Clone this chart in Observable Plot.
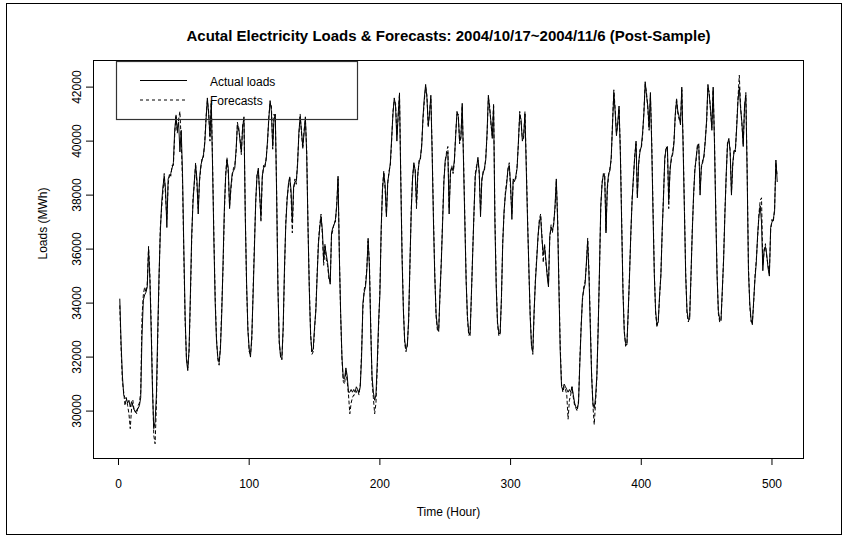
<!DOCTYPE html>
<html>
<head>
<meta charset="utf-8">
<script src="https://cdn.jsdelivr.net/npm/d3@7"></script>
<script src="https://cdn.jsdelivr.net/npm/@observablehq/plot@0.6"></script>
<style>
  html, body { margin: 0; padding: 0; background: white; }
  svg { display: block; }
</style>
</head>
<body>
<div id="chart"></div>
<script>
// Hourly loads (MWh), one row per day, 2004/10/17 (Sun) ... 2004/11/6 (Sat)
const actual = [
  34150,32500,31300,30600,30500,30450,30300,30400,30150,30350,30200,30050,29950,30050,30100,30200,30500,32800,34100,34300,34400,34600,36000,34900,
  33000,30800,29350,29600,30600,32900,35000,36600,37700,38300,38700,38200,36800,38600,38700,38800,39000,39200,40400,40900,40400,40700,39600,40400,
  38800,36000,33500,31900,31500,32300,34300,36500,37700,38500,39100,38600,37300,38600,39100,39300,39500,39900,40800,41600,41000,40200,41400,39000,
  36300,34000,32600,32000,31800,32300,33600,35500,37500,38700,39300,39000,37500,38300,38800,38900,39000,39700,40600,40500,40000,39600,40500,40900,
  37200,34800,33000,32300,32000,32800,34300,36000,37800,38700,39000,38000,37200,38700,39000,39100,39300,40000,40800,41500,41100,39800,40800,41000,
  38000,34500,32600,32000,31950,33100,35300,36900,37800,38400,38650,38200,37000,38300,38500,38500,39100,40300,40900,40400,39800,40300,40900,39500,
  36800,34500,32800,32200,32300,33100,33700,35000,36200,36800,37200,36700,35600,36100,35800,35500,35000,34700,36600,36800,36900,37100,37600,38700,
  35700,33600,32000,31200,31200,31600,31300,30700,30700,30800,30700,30800,30700,30900,30800,30700,30900,32000,34000,34400,34600,35200,36400,35300,
  33000,31300,30700,30400,30600,31800,33300,34300,36800,38200,38800,38400,37200,38500,38800,39200,40100,41000,41600,41300,40000,41000,41700,38500,
  35600,33700,32600,32300,32400,33400,35500,37400,38600,39200,38900,37700,38800,39200,39400,39800,40900,41600,42100,41600,40600,41000,41700,39500,
  37000,35000,33600,33100,32950,34400,35500,37000,38500,39300,39500,39600,37300,38900,39000,38900,39300,40200,41100,40900,40000,40100,41400,39200,
  37000,34800,33500,32900,32800,34300,35800,37400,38700,39000,39400,38900,37200,38600,38800,39000,39300,40300,41700,41200,40700,40100,41300,37000,
  34600,33300,32900,32850,34200,36200,37400,38000,38400,39000,39100,38400,37100,38600,38500,38700,39000,40000,41000,40800,40000,40200,41000,39000,
  37000,35300,33500,32400,32200,33700,34800,35600,36500,37000,37200,36400,35800,36100,35600,35000,34600,36500,36800,36700,36900,37600,38600,37000,
  34500,32200,30900,30800,31000,30900,30800,30700,30800,30700,30900,30600,30300,30150,30100,30300,31800,33100,34200,34500,34700,35500,36300,35000,
  33100,31300,30300,30100,30500,31300,33000,35200,37600,38400,38800,38700,36600,38300,38800,38900,39400,40600,41800,41100,40200,40700,41300,39500,
  36900,34400,32900,32500,32450,33700,35000,36600,37800,38700,39400,40000,37900,39200,39600,39800,40300,41000,42200,41700,41300,40500,41800,39800,
  37300,35000,33700,33200,33300,34300,35000,36700,37900,39400,39700,39800,37800,38900,39400,39500,39900,41000,41500,41100,40900,40600,42000,39800,
  37400,35000,33700,33400,33400,35000,36600,38000,38900,39400,39800,39900,38000,39100,39200,39500,40000,40800,42100,41700,41200,40400,42000,39900,
  37300,35000,33700,33400,33350,34500,35600,37300,38800,39900,40100,39600,38000,39200,39600,39700,40500,41500,42000,41200,40700,39800,41300,41700,
  38800,35200,34000,33400,33200,34100,34900,35500,36500,37200,37600,37000,35200,36000,36100,35800,35300,35000,36800,37000,37100,37400,39300,38500
];
const forecast = [
  33900,32300,31100,30700,30200,30500,30200,29900,29350,30100,30400,30000,30000,29900,30200,30300,30700,33500,34300,34600,34400,34700,36100,35100,
  33300,31000,29100,28790,30200,32600,34800,36800,37500,38100,38800,38000,37100,38400,38800,38700,39100,39100,40200,41000,40300,40800,41100,40000,
  38500,35800,33300,32000,31600,32200,34100,36300,37900,38400,39200,38400,37500,38500,39000,39400,39400,40000,40900,41500,41100,40000,41500,39200,
  36500,34200,32700,31900,31700,32400,33800,35300,37300,38800,39400,38800,37600,38200,38700,39000,39100,39600,40700,40400,40100,39500,40600,40800,
  37400,34600,33100,32200,32100,32600,34500,36200,37700,38800,38900,38100,37000,38600,39100,39000,39400,39900,40900,41400,41300,39700,41000,40900,
  38200,34700,32500,32100,31900,33000,35100,37000,37900,38300,38700,38000,36600,38200,38600,38400,39200,40200,41000,40300,39700,40400,40800,39700,
  36900,34600,32900,32100,32200,33000,33800,35100,36300,36900,37300,36500,35400,36200,35600,35400,34900,34800,36500,36700,37000,37000,37700,38600,
  35800,33500,31900,31100,31000,31500,31100,30600,29900,30300,30500,30600,30600,30700,30800,30600,31000,32200,33800,34500,34700,35300,36300,35500,
  33200,31100,30500,29900,30300,31600,33100,34500,36600,38300,38900,38200,37300,38400,38900,39100,40000,41100,41500,41400,40200,40900,41800,38700,
  35800,33800,32500,32200,32500,33300,35400,37500,38700,39100,39000,37500,38700,39300,39300,39900,40800,41500,42000,41700,40500,41100,41600,39700,
  37200,35100,33500,33000,33000,34300,35600,37100,38600,39200,39600,39800,37500,38800,39100,38800,39200,40300,41000,41000,39900,40200,41300,39400,
  37200,34900,33400,32800,32900,34200,35900,37300,38800,39100,39300,38800,37400,38500,38900,38900,39400,40200,41600,41300,40600,40200,41400,37300,
  34800,33200,32800,32900,34100,36300,37300,38100,38500,38900,39200,38200,37300,38500,38600,38600,39100,39900,41100,40700,40100,40100,41100,39200,
  37200,35200,33600,32500,32100,33600,34900,35700,36400,37100,37300,36500,35500,36200,35500,35100,34700,36400,36900,36600,37000,37500,38500,37200,
  34700,32400,31000,30700,30900,30800,30600,29700,30400,30600,30900,30500,30200,30100,30000,30400,31900,33200,34100,34600,34800,35400,36400,35200,
  33300,31400,30200,29500,30300,31200,33100,35100,37500,38500,38700,38800,36700,38200,38700,39000,39300,40700,41900,41200,40300,40600,41200,39700,
  37100,34500,33000,32400,32500,33600,35100,36500,37900,38600,39500,39900,38000,39100,39700,39700,40200,41100,42100,41800,41200,40400,41700,40000,
  37500,35100,33600,33100,33400,34200,35100,36600,38000,39300,39800,39700,37500,39000,39300,39600,40000,40900,41600,41000,40800,40700,41900,40000,
  37600,35100,33600,33300,33500,34900,36700,37900,39000,39300,39900,39800,38200,39000,39300,39400,40100,40700,42000,41800,41100,40500,41900,40100,
  37500,35100,33600,33300,33400,34400,35700,37400,38700,40000,40000,39700,38100,39100,39700,39600,40600,41600,42440,41300,40600,39900,41200,41800,
  39000,35400,33900,33300,33300,34000,35000,35600,36400,37300,37800,37900,35400,35900,36200,35700,35400,35100,36700,37100,37000,37500,39200,38700
];
const xTicks = [0, 100, 200, 300, 400, 500];
const yTicks = [30000, 32000, 34000, 36000, 38000, 40000, 42000];
const seriesNames = ["Actual loads", "Forecasts"];
const titleText = "Acutal Electricity Loads & Forecasts: 2004/10/17~2004/11/6 (Post-Sample)";
const xLabel = "Time (Hour)";
const yLabel = "Loads (MWh)";

const rows = actual.map((v, i) => ({hour: i + 1, actual: v, forecast: forecast[i]}));

// R-style 4% axis extension
function ext(lo, hi) { const r = hi - lo; return [lo - 0.04 * r, hi + 0.04 * r]; }
const xDom = ext(1, rows.length);
const yDom = ext(d3.min([...actual, ...forecast]), d3.max([...actual, ...forecast]));

const font = "'Liberation Sans', Arial, Helvetica, sans-serif";

const chart = Plot.plot({
  width: 847,
  height: 537,
  marginLeft: 93,
  marginRight: 44,
  marginTop: 60,
  marginBottom: 79,
  style: {fontFamily: font, fontSize: "12px", background: "white", color: "black", overflow: "visible"},
  x: {domain: xDom},
  y: {domain: yDom},
  marks: [
    Plot.line(rows, {x: "hour", y: "actual", stroke: "black", strokeWidth: 1}),
    Plot.line(rows, {x: "hour", y: "forecast", stroke: "black", strokeWidth: 1, strokeDasharray: "3,3"}),
    Plot.frame({stroke: "black", strokeWidth: 1}),
    Plot.axisX({ticks: xTicks, tickSize: 7, tickPadding: 14, tickFormat: d3.format("d"), label: null, fontSize: 12}),
    Plot.axisY({ticks: yTicks, tickSize: 7, tickPadding: 6, tickRotate: -90, tickFormat: d3.format("d"), label: null, fontSize: 12}),
    Plot.text([xLabel], {frameAnchor: "bottom", dy: 57, text: d => d, fontSize: 12}),
    Plot.text([yLabel], {frameAnchor: "left", dx: -50, rotate: -90, text: d => d, fontSize: 12}),
    Plot.text([titleText], {frameAnchor: "top", dy: -30, text: d => d, fontSize: 15, fontWeight: "bold"})
  ]
});

document.getElementById("chart").appendChild(chart);

// Outer figure border and legend
const svg = d3.select(chart);
svg.append("rect")
  .attr("x", 6.5).attr("y", 3.5).attr("width", 835).attr("height", 531)
  .attr("fill", "none").attr("stroke", "black").attr("stroke-width", 1);

const lg = svg.append("g").attr("font-family", font).attr("font-size", 12).attr("text-anchor", "start");
lg.append("rect")
  .attr("x", 116.5).attr("y", 61.5).attr("width", 241).attr("height", 58)
  .attr("fill", "none").attr("stroke", "#333").attr("stroke-width", 1.2);
const dashes = [null, "3,3"];
seriesNames.forEach((name, i) => {
  const y = 80.5 + i * 19.5;
  lg.append("line")
    .attr("x1", 140).attr("x2", 187).attr("y1", y).attr("y2", y)
    .attr("stroke", "black").attr("stroke-width", 1)
    .attr("stroke-dasharray", dashes[i]);
  lg.append("text")
    .attr("x", 210).attr("y", y + 1).attr("dy", "0.35em")
    .attr("text-anchor", "start")
    .attr("fill", "black").text(name);
});
</script>
</body>
</html>
